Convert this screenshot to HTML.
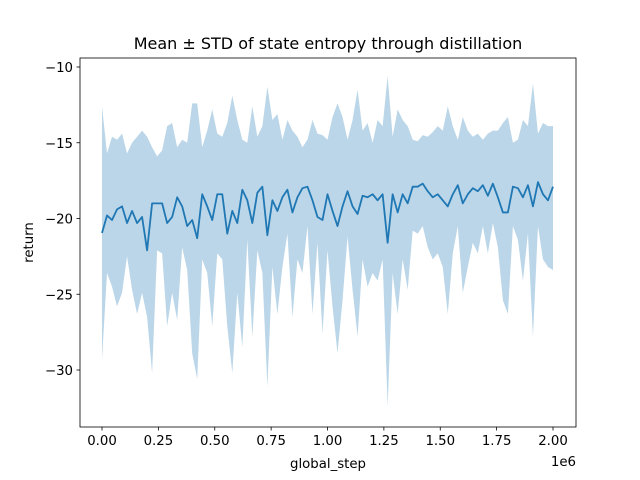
<!DOCTYPE html>
<html><head><meta charset="utf-8"><style>
body{margin:0;background:#fff;}
svg{display:block;font-family:"DejaVu Sans","Liberation Sans",sans-serif;}
</style></head><body>
<svg id="chart" width="640" height="480" viewBox="0 0 640 480" xmlns="http://www.w3.org/2000/svg">
<rect x="0" y="0" width="640" height="480" fill="#fff"/>
<g id="plot"></g>
<rect x="80" y="58" width="496" height="369" fill="none" stroke="#000" stroke-width="0.8"/>
<g id="xticks"></g>
<g id="yticks"></g>
<text x="328" y="49" text-anchor="middle" font-size="16">Mean ± STD of state entropy through distillation</text>
<text x="328" y="468" text-anchor="middle" font-size="13.3">global_step</text>
<text x="0" y="0" transform="translate(33,242.5) rotate(-90)" text-anchor="middle" font-size="13.3">return</text>
<text x="576" y="466" text-anchor="end" font-size="13.3">1e6</text>
</svg>
<script>
const meanVals=[-20.96,-19.8,-20.1,-19.4,-19.2,-20.3,-19.5,-20.3,-19.9,-22.1,-19.0,-19.0,-19.0,-20.3,-19.9,-18.6,-19.2,-20.5,-20.1,-21.3,-18.4,-19.2,-20.1,-18.4,-18.4,-21.0,-19.5,-20.3,-18.1,-18.8,-20.3,-18.3,-17.9,-21.1,-18.8,-19.5,-18.6,-18.1,-19.6,-18.6,-18.0,-17.9,-18.8,-19.9,-20.1,-18.4,-19.5,-20.5,-19.2,-18.2,-19.2,-19.7,-18.5,-18.6,-18.4,-18.8,-18.4,-21.6,-18.4,-19.6,-18.4,-19.0,-17.9,-17.9,-17.7,-18.2,-18.6,-18.4,-18.8,-19.2,-18.4,-17.8,-19.0,-18.4,-18.0,-18.2,-17.8,-18.5,-17.7,-18.6,-19.6,-19.6,-17.9,-18.0,-18.6,-17.8,-19.2,-17.6,-18.4,-18.8,-17.9];
const upperVals=[-12.6,-15.7,-14.6,-14.8,-14.4,-15.7,-15.0,-14.6,-14.2,-14.6,-15.3,-15.9,-15.5,-13.9,-13.7,-15.3,-14.8,-15.0,-12.4,-12.4,-15.3,-14.2,-12.8,-14.4,-14.6,-13.7,-11.9,-13.5,-14.8,-15.0,-12.6,-14.6,-13.9,-11.3,-13.5,-13.1,-14.8,-13.5,-14.2,-14.6,-15.3,-14.8,-13.5,-14.4,-14.5,-14.8,-13.3,-12.4,-13.3,-14.8,-13.5,-11.5,-14.2,-13.7,-15.0,-13.5,-13.9,-10.6,-14.6,-12.8,-13.5,-13.9,-14.8,-14.9,-14.5,-14.6,-14.3,-13.9,-14.2,-12.6,-13.9,-14.8,-13.3,-14.2,-14.6,-14.4,-14.8,-14.4,-14.2,-14.2,-13.7,-13.3,-15.0,-14.8,-13.5,-13.9,-11.1,-14.4,-13.7,-13.9,-13.9];
const lowerVals=[-29.3,-23.6,-24.5,-25.8,-24.9,-22.5,-24.7,-26.3,-24.9,-26.5,-30.2,-22.1,-22.3,-27.1,-24.9,-26.7,-21.9,-23.4,-28.9,-30.6,-22.7,-23.6,-27.1,-22.3,-22.7,-27.1,-30.2,-24.9,-28.5,-21.4,-27.8,-22.1,-23.6,-31.1,-23.2,-26.3,-23.2,-21.0,-26.5,-22.7,-23.6,-20.5,-26.3,-21.6,-27.6,-22.1,-25.8,-28.9,-25.4,-21.2,-24.7,-27.8,-22.7,-24.5,-23.6,-24.1,-22.7,-32.4,-23.6,-26.3,-22.7,-24.7,-20.8,-21.0,-20.5,-21.9,-22.7,-22.3,-23.2,-26.3,-22.3,-20.5,-24.9,-23.2,-21.6,-22.3,-20.5,-22.3,-20.3,-21.9,-25.4,-26.3,-20.5,-21.4,-24.1,-21.0,-27.8,-20.5,-22.7,-23.2,-23.4];
const stepMax=2000000;
const xTickVals=[0,0.25,0.5,0.75,1.0,1.25,1.5,1.75,2.0];
const xTickLabels=["0.00","0.25","0.50","0.75","1.00","1.25","1.50","1.75","2.00"];
const yTickVals=[-30,-25,-20,-15,-10];
const yTickLabels=["−30","−25","−20","−15","−10"];
const NS="http://www.w3.org/2000/svg";
function xs(step){return 102+step/stepMax*451;}
function ys(v){return 67+(-10-v)*15.15;}
const n=meanVals.length;
function stepAt(i){return i*stepMax/(n-1);}
const plot=document.getElementById('plot');
let d="";
for(let i=0;i<n;i++){d+=(i?"L":"M")+xs(stepAt(i)).toFixed(2)+","+ys(upperVals[i]).toFixed(2);}
for(let i=n-1;i>=0;i--){d+="L"+xs(stepAt(i)).toFixed(2)+","+ys(lowerVals[i]).toFixed(2);}
d+="Z";
const band=document.createElementNS(NS,'path');
band.setAttribute('d',d);band.setAttribute('fill','#1f77b4');band.setAttribute('fill-opacity','0.3');


plot.appendChild(band);
let m="";
for(let i=0;i<n;i++){m+=(i?"L":"M")+xs(stepAt(i)).toFixed(2)+","+ys(meanVals[i]).toFixed(2);}
const line=document.createElementNS(NS,'path');
line.setAttribute('d',m);line.setAttribute('fill','none');line.setAttribute('stroke','#1f77b4');line.setAttribute('stroke-width','1.8');line.setAttribute('stroke-linejoin','round');


plot.appendChild(line);
const xg=document.getElementById('xticks');
xTickVals.forEach((v,i)=>{
  const x=xs(v*1e6);
  const t=document.createElementNS(NS,'line');
  t.setAttribute('x1',x);t.setAttribute('x2',x);t.setAttribute('y1',427);t.setAttribute('y2',430.5);t.setAttribute('stroke','#000');t.setAttribute('stroke-width','0.8');
  
  
  xg.appendChild(t);
  const l=document.createElementNS(NS,'text');
  l.setAttribute('x',x);l.setAttribute('y',445);l.setAttribute('text-anchor','middle');l.setAttribute('font-size','13.3');
  l.textContent=xTickLabels[i];
  
  
  xg.appendChild(l);
});
const yg=document.getElementById('yticks');
yTickVals.forEach((v,i)=>{
  const y=ys(v);
  const t=document.createElementNS(NS,'line');
  t.setAttribute('x1',76.5);t.setAttribute('x2',80);t.setAttribute('y1',y);t.setAttribute('y2',y);t.setAttribute('stroke','#000');t.setAttribute('stroke-width','0.8');
  
  
  yg.appendChild(t);
  const l=document.createElementNS(NS,'text');
  l.setAttribute('x',73);l.setAttribute('y',y+5);l.setAttribute('text-anchor','end');l.setAttribute('font-size','13.3');
  l.textContent=yTickLabels[i];
  
  
  yg.appendChild(l);
});
</script>
</body></html>
